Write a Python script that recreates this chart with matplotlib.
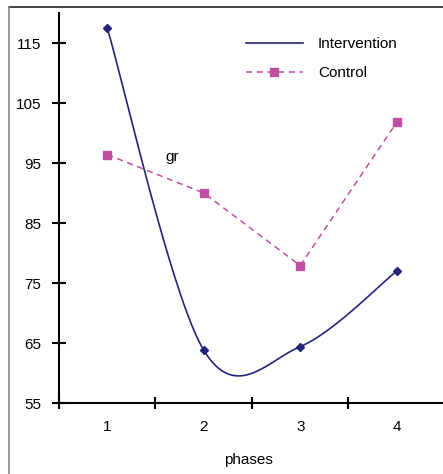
import numpy as np
import matplotlib
matplotlib.use('Agg')
import matplotlib.pyplot as plt
from matplotlib.lines import Line2D

plt.rcParams['font.family'] = ['Liberation Sans', 'DejaVu Sans']

phases = [1, 2, 3, 4]
intervention = [117.5, 63.8, 64.4, 77.0]
control = [96.4, 90.0, 77.9, 101.8]
yticks = [55, 65, 75, 85, 95, 105, 115]

navy = '#24247a'
pink = '#c04fa2'


# smoothed line the way a spreadsheet draws it (bezier through the points)
def smooth(xs, ys, n=60):
    p = np.column_stack([xs, ys]).astype(float)
    p_ext = np.vstack([p[0], p, p[-1]])
    out = []
    t = np.linspace(0, 1, n)[:, None]
    for i in range(len(p) - 1):
        p0, p1, p2, p3 = p_ext[i], p_ext[i + 1], p_ext[i + 2], p_ext[i + 3]
        c1 = p1 + (p2 - p0) / 6
        c2 = p2 - (p3 - p1) / 6
        seg = ((1 - t) ** 3) * p1 + 3 * ((1 - t) ** 2) * t * c1 + 3 * (1 - t) * t ** 2 * c2 + t ** 3 * p2
        out.append(seg)
    out = np.vstack(out)
    return out[:, 0], out[:, 1]


fig = plt.figure(figsize=(4.43, 4.74), dpi=100)
ax = fig.add_axes([59 / 443, 71 / 474, 386 / 443, 390 / 474])

sx, sy = smooth(phases, intervention)
ax.plot(sx, sy, color=navy, lw=1.2, label='Intervention')
ax.plot(phases, intervention, ls='none', marker='D', ms=4.5, color=navy)
ax.plot(phases, control, color=pink, lw=1.1, dashes=(4, 3), marker='s', ms=5.5,
        label='Control')

ax.text(1.6, 96.0, 'gr', fontsize=11, va='center', ha='left')

ax.set_xlim(0.5, 4.5)
ax.set_ylim(55, 120)
ax.set_yticks(yticks)
ax.set_xticks(phases)
ax.set_xticks([0.5, 1.5, 2.5, 3.5, 4.5], minor=True)

for s in ['top', 'right']:
    ax.spines[s].set_visible(False)
for s in ['left', 'bottom']:
    ax.spines[s].set_linewidth(1.5)
    ax.spines[s].set_color('black')

ax.tick_params(axis='y', direction='inout', length=9.5, width=1.5, labelsize=11, pad=8)
ax.tick_params(axis='x', which='major', length=0, labelsize=11, pad=12)
ax.tick_params(axis='x', which='minor', direction='inout', length=9, width=1.5)

ax.set_xlabel('phases', fontsize=11)
ax.xaxis.set_label_coords((248 - 59) / 386, -(460 - 403) / 390)
ax.xaxis.label.set_va('center')

ax.legend(loc='upper left', bbox_to_anchor=(246 / 443, 1 - 37 / 474),
          bbox_transform=fig.transFigure, frameon=False, fontsize=11,
          handlelength=3.7, handletextpad=1.0, labelspacing=1.0,
          borderpad=0, borderaxespad=0)

# outer chart frame (top and left edges visible)
fig.add_artist(Line2D([9 / 443, 1], [1 - 7 / 474, 1 - 7 / 474], transform=fig.transFigure,
                      color='#222222', lw=1.2))
fig.add_artist(Line2D([9 / 443, 9 / 443], [0, 1 - 7 / 474], transform=fig.transFigure,
                      color='#888888', lw=1.2))

fig.savefig('out.png', dpi=100)
